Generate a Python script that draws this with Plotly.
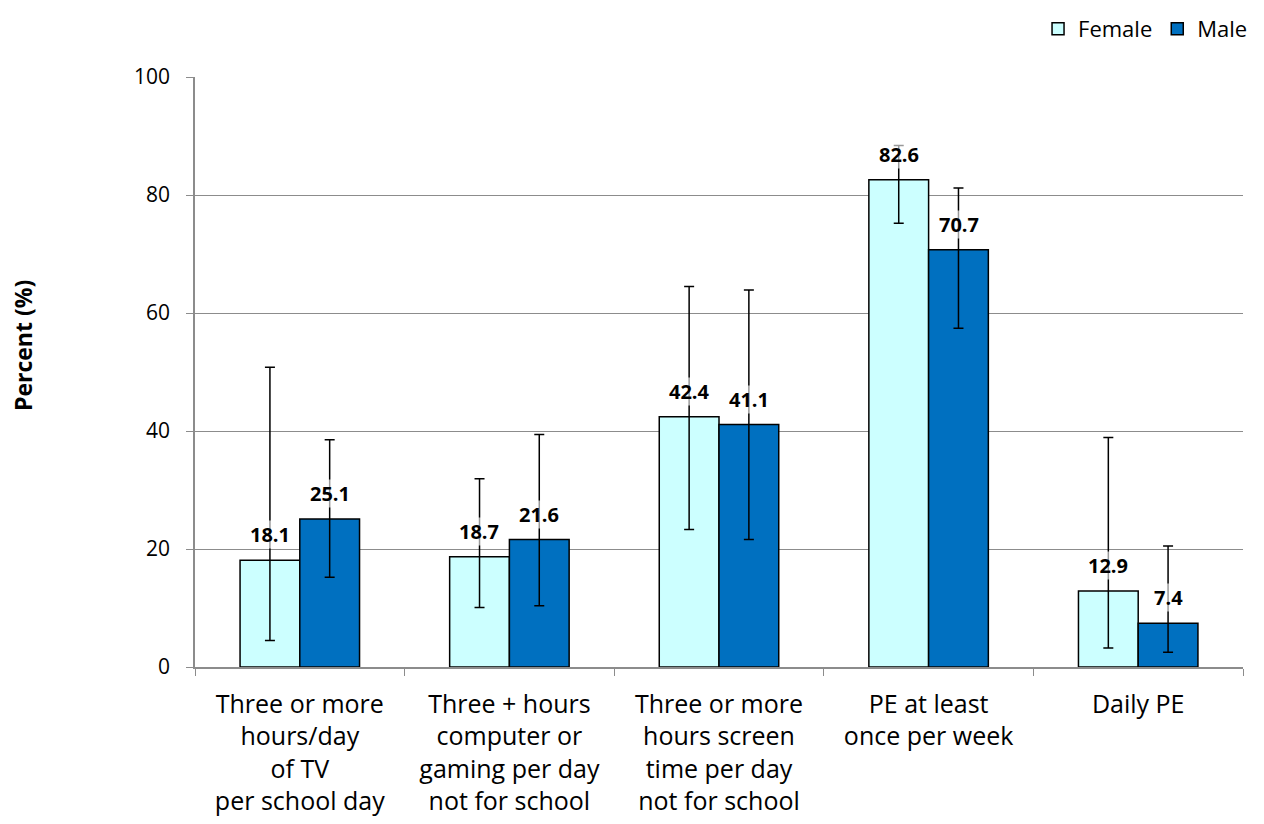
import plotly.graph_objects as go

categories = [
    "Three or more<br>hours/day<br>of TV<br>per school day",
    "Three + hours<br>computer or<br>gaming per day<br>not for school",
    "Three or more<br>hours screen<br>time per day<br>not for school",
    "PE at least<br>once per week",
    "Daily PE",
]
female = [18.1, 18.7, 42.4, 82.6, 12.9]
female_low = [4.5, 10.1, 23.3, 75.2, 3.2]
female_high = [50.8, 31.9, 64.5, 88.4, 38.9]
male = [25.1, 21.6, 41.1, 70.7, 7.4]
male_low = [15.2, 10.4, 21.6, 57.4, 2.5]
male_high = [38.5, 39.4, 63.9, 81.2, 20.5]
y_ticks = [0, 20, 40, 60, 80, 100]

FONT = "Open Sans"
fig = go.Figure()


def add_series(name, vals, lo, hi, color):
    fig.add_trace(go.Bar(
        name=name, x=categories, y=vals,
        marker=dict(color=color, line=dict(color="black", width=1.5)),
        error_y=dict(type="data", symmetric=False,
                     array=[h - v for h, v in zip(hi, vals)],
                     arrayminus=[v - l for v, l in zip(vals, lo)],
                     color="black", thickness=1.5, width=5),
    ))


add_series("Female", female, female_low, female_high, "#CCFFFF")
add_series("Male", male, male_low, male_high, "#0070C0")

for vals, shift in ((female, -30), (male, 30)):
    for c, v in zip(categories, vals):
        fig.add_annotation(
            x=c, y=v, xref="x", yref="y", text=f"<b>{v:.1f}</b>",
            showarrow=False, yanchor="bottom", xshift=shift, yshift=11,
            font=dict(family=FONT, size=20, color="black"),
            bgcolor="rgba(255,255,255,0.6)", borderpad=0,
        )

fig.add_annotation(
    text="<b>Percent (%)</b>", xref="paper", yref="paper", x=0, y=0.544,
    xanchor="center", yanchor="middle",
    xshift=-172, textangle=-90, showarrow=False,
    font=dict(family=FONT, size=23, color="black"),
)

fig.update_layout(
    width=1264, height=824,
    margin=dict(l=187, r=29, t=69, b=165),
    paper_bgcolor="white", plot_bgcolor="white",
    barmode="group", bargap=0.43, bargroupgap=0,
    font=dict(family=FONT, size=20, color="black"),
    legend=dict(orientation="h", xref="container", yref="container",
                x=0.985, xanchor="right", y=1.0, yanchor="top",
                font=dict(family=FONT, size=22), traceorder="normal",
                itemwidth=30, bgcolor="rgba(0,0,0,0)"),
    xaxis=dict(showline=True, linecolor="#8c8c8c", linewidth=1.5,
               ticks="outside", tickson="boundaries", ticklen=7, tickcolor="#8c8c8c",
               tickfont=dict(family=FONT, size=25), showgrid=False,
               ticklabelstandoff=14),
    yaxis=dict(range=[0, 100], tickvals=y_ticks, showline=True, linecolor="#8c8c8c",
               linewidth=1.5, ticks="outside", ticklen=7, tickcolor="#8c8c8c",
               gridcolor="#8c8c8c", gridwidth=1.2, zeroline=False,
               tickfont=dict(family=FONT, size=21), ticklabelstandoff=12),
)

fig.write_html("out.html")
